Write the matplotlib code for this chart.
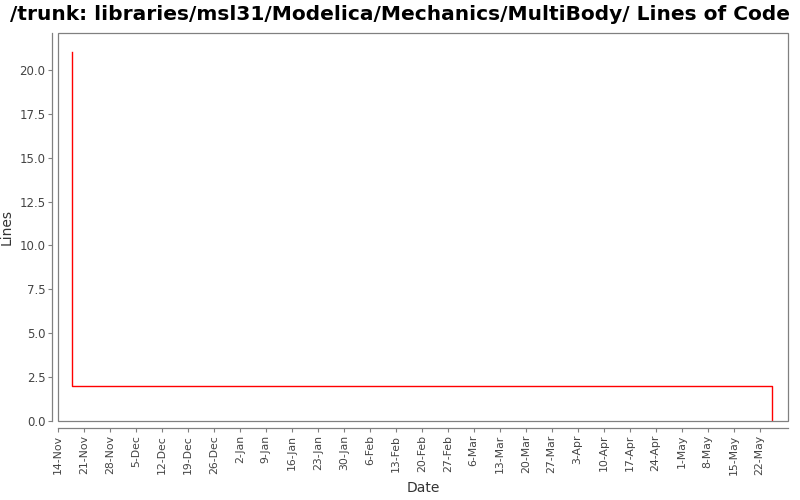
import matplotlib
matplotlib.use("Agg")
import matplotlib.pyplot as plt
import matplotlib.dates as mdates
from matplotlib.patches import Rectangle
import datetime as dt

# Data
dates = [dt.datetime(2008, 11, 17, 18), dt.datetime(2008, 11, 17, 18), dt.datetime(2009, 5, 25, 6)]
lines = [21, 2, 0]
tick_start = dt.datetime(2008, 11, 14)
tick_labels_count = 28
x_min = dt.datetime(2008, 11, 14)
x_max = dt.datetime(2009, 5, 29, 16)

fig = plt.figure(figsize=(8, 5), dpi=100)
ax = fig.add_axes([58/800, 1-421/500, (788-58)/800, (421-33)/500])

ax.plot(dates, lines, color="red", linewidth=1.0, drawstyle="steps-post")
ax.set_xlim(x_min, x_max)
ax.set_ylim(0, 22.1)

ticks = [tick_start + dt.timedelta(days=7*i) for i in range(tick_labels_count)]
ax.set_xticks(ticks)
ax.xaxis.set_major_formatter(mdates.DateFormatter("%-d-%b"))
ax.set_yticks([0, 2.5, 5, 7.5, 10, 12.5, 15, 17.5, 20])
ax.set_yticklabels(["0.0", "2.5", "5.0", "7.5", "10.0", "12.5", "15.0", "17.5", "20.0"])

ax.tick_params(axis="both", colors="#808080", labelcolor="#444444", labelsize=8.5, length=3, width=0.8)
ax.tick_params(axis="x", pad=2, labelrotation=90, labelsize=7.8)
ax.tick_params(axis="y", pad=2)

for s in ["top", "right"]:
    ax.spines[s].set_visible(False)
ax.spines["left"].set_position(("outward", 4))
ax.spines["bottom"].set_position(("outward", 5))
for s in ["left", "bottom"]:
    ax.spines[s].set_color("#808080")
    ax.spines[s].set_linewidth(0.9)

ax.add_patch(Rectangle((0, 0), 1, 1, transform=ax.transAxes, fill=False,
                       edgecolor="#808080", linewidth=0.9, clip_on=False, zorder=5))

ax.set_xlabel("Date", fontsize=10, color="#333333", labelpad=4)
ax.set_ylabel("Lines", fontsize=10, color="#333333", labelpad=4)
fig.text(0.5, 1-14/500, "/trunk: libraries/msl31/Modelica/Mechanics/MultiBody/ Lines of Code",
         ha="center", va="center", fontsize=14.5, fontweight="bold")

fig.savefig("out.png", dpi=100)
